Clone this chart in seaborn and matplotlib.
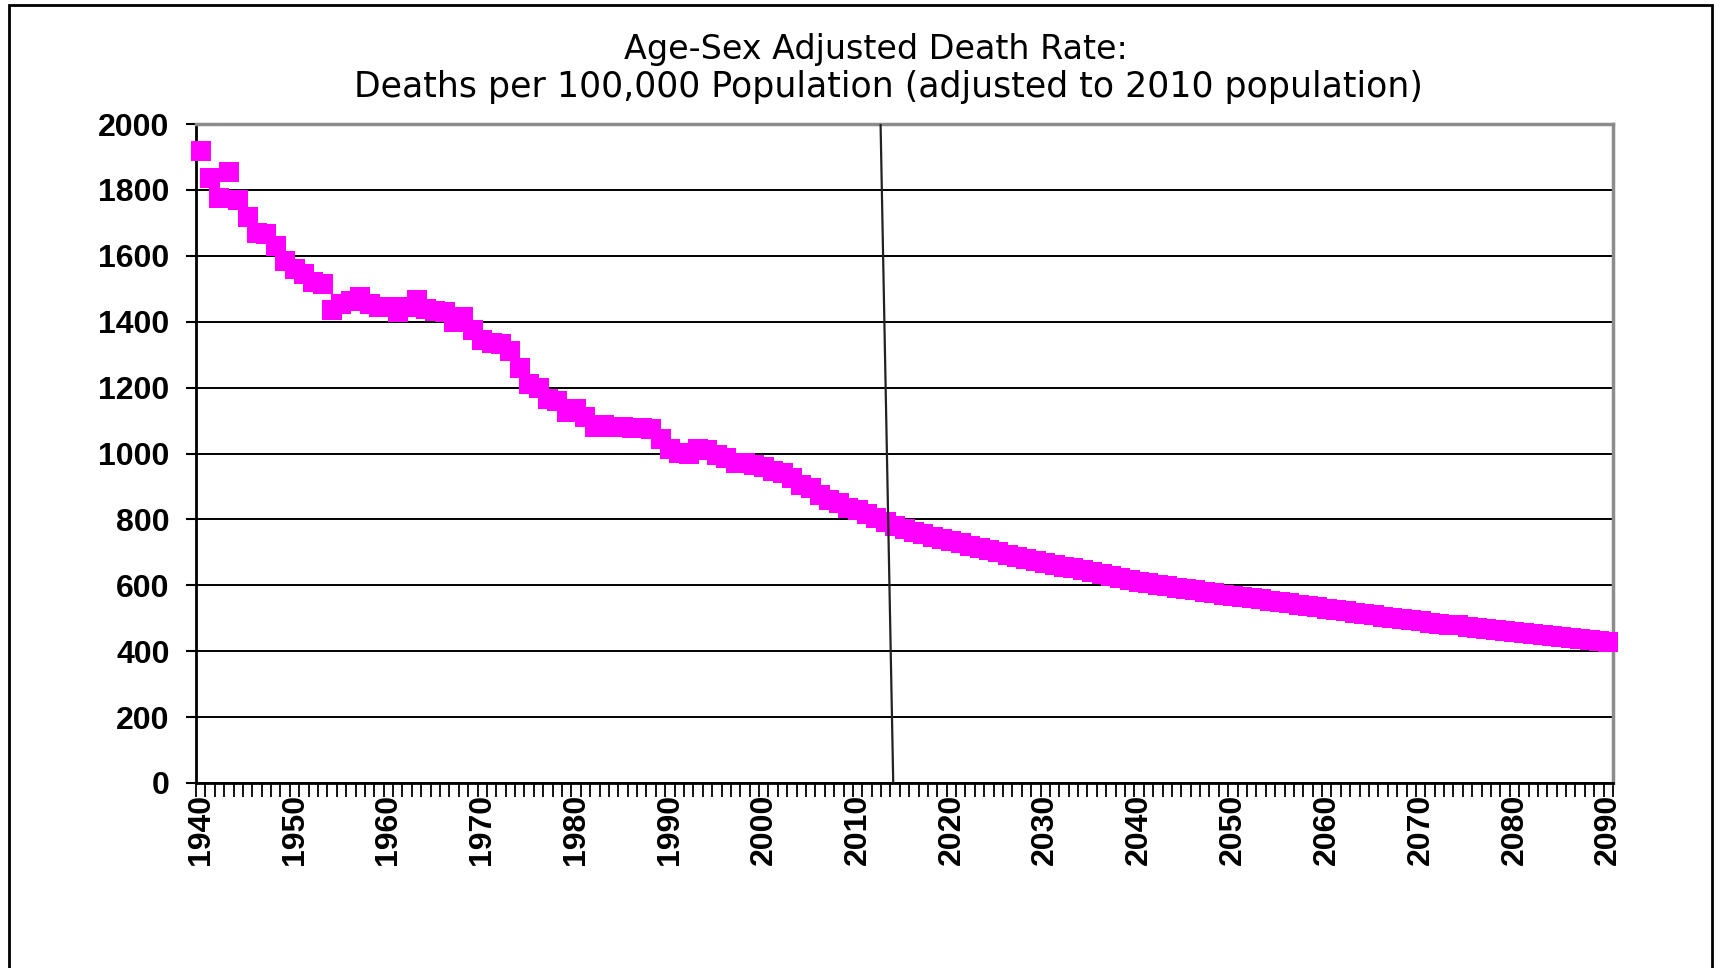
import numpy as np
import pandas as pd
import seaborn as sns
from matplotlib import pyplot as plt
from matplotlib.patches import Rectangle

# values (deaths per 100,000)
years = list(range(1940, 2091))
historical = [
    1918, 1836, 1776, 1855, 1770, 1718, 1670, 1665, 1630, 1585,   # 1940s
    1560, 1545, 1520, 1515, 1435, 1455, 1462, 1476, 1455, 1445,   # 1950s
    1445, 1430, 1445, 1466, 1440, 1433, 1430, 1400, 1415, 1375,   # 1960s
    1345, 1335, 1333, 1310, 1260, 1210, 1200, 1165, 1160, 1125,   # 1970s
    1135, 1110, 1080, 1085, 1080, 1080, 1078, 1078, 1075, 1045,   # 1980s
    1015, 1002, 1000, 1015, 1012, 995, 985, 972, 970, 965,        # 1990s
    960, 948, 940, 925, 905, 895, 875, 860, 850, 835,             # 2000s
    828, 815, 805, 792,                                           # 2010-2013
]
projected = [
    780, 770, 762, 755, 748, 741,                                 # 2014-2019
    734, 727, 720, 713, 707, 700, 693, 687, 681, 675,             # 2020s
    669, 663, 657, 651, 645, 639, 633, 627, 622, 616,             # 2030s
    611, 606, 601, 597, 593, 589, 585, 581, 576, 572,             # 2040s
    568, 564, 560, 557, 553, 549, 545, 541, 537, 533,             # 2050s
    529, 525, 521, 517, 513, 509, 505, 501, 498, 494,             # 2060s
    491, 487, 484, 481, 478, 474, 471, 468, 465, 462,             # 2070s
    459, 456, 453, 450, 447, 444, 441, 438, 435, 432,             # 2080s
    429,                                                          # 2090
]
rates = historical + projected
y_ticks = [0, 200, 400, 600, 800, 1000, 1200, 1400, 1600, 1800, 2000]
x_labels = list(range(1940, 2091, 10))
divider_years = [2012.45, 2013.8]
divider_values = [2000, 0]

title_1 = 'Age-Sex Adjusted Death Rate:'
title_2 = 'Deaths per 100,000 Population (adjusted to 2010 population)'

df = pd.DataFrame({'year': years, 'rate': rates})

sns.set_style('white')
plt.rcParams['font.family'] = ['DejaVu Sans']
plt.rcParams['text.color'] = 'black'
plt.rcParams['xtick.color'] = 'black'
plt.rcParams['ytick.color'] = 'black'

fig = plt.figure(figsize=(17.23, 9.68), dpi=100)
ax = fig.add_axes([196 / 1723, 1 - 783 / 968, (1613 - 196) / 1723, (783 - 124) / 968])

sns.scatterplot(data=df, x='year', y='rate', ax=ax, marker='s', s=225,
                color='#ff00ff', linewidth=0, clip_on=False, zorder=3, legend=False)
ax.plot(divider_years, divider_values, color='#222222', lw=1.6, zorder=4)

ax.set_xlim(1939.5, 2090.5)
ax.set_ylim(0, 2000)

# y axis
ax.set_yticks(y_ticks)
ax.yaxis.grid(True, color='black', lw=1.4)
ax.set_axisbelow(True)
ax.tick_params(axis='y', direction='out', length=7, width=1.5, color='black',
               labelcolor='black', pad=12, left=True)
for lab in ax.get_yticklabels():
    lab.set_fontfamily('Liberation Sans')
    lab.set_fontweight('bold')
    lab.set_fontsize(23)

# x axis: ticks between categories, labels every decade
ax.set_xticks(x_labels)
ax.set_xticklabels([str(v) for v in x_labels], rotation=90, fontfamily='Liberation Sans',
                   fontweight='bold', fontsize=23)
ax.tick_params(axis='x', which='major', length=0, pad=8, labelcolor='black')
ax.set_xticks(np.arange(1939.5, 2091, 1), minor=True)
ax.tick_params(axis='x', which='minor', direction='out', length=10, width=1.3, color='black', bottom=True)
ax.set_xlabel('')
ax.set_ylabel('')

for side in ['left', 'bottom']:
    ax.spines[side].set_color('black')
    ax.spines[side].set_linewidth(2)
for side in ['top', 'right']:
    ax.spines[side].set_color('#8c8c8c')
    ax.spines[side].set_linewidth(2.5)

fig.text(0.5084, 1 - 50 / 968, title_1, ha='center', va='center', fontsize=24, color='black')
fig.text(0.5157, 1 - 87 / 968, title_2, ha='center', va='center', fontsize=25, color='black')

# chart area border (runs off the bottom edge)
fig.patches.append(Rectangle((9 / 1723, -0.1), (1712 - 9) / 1723, 1.1 - 5.5 / 968,
                             transform=fig.transFigure, fill=False, edgecolor='black', lw=2))

fig.savefig('out.png', dpi=100)
